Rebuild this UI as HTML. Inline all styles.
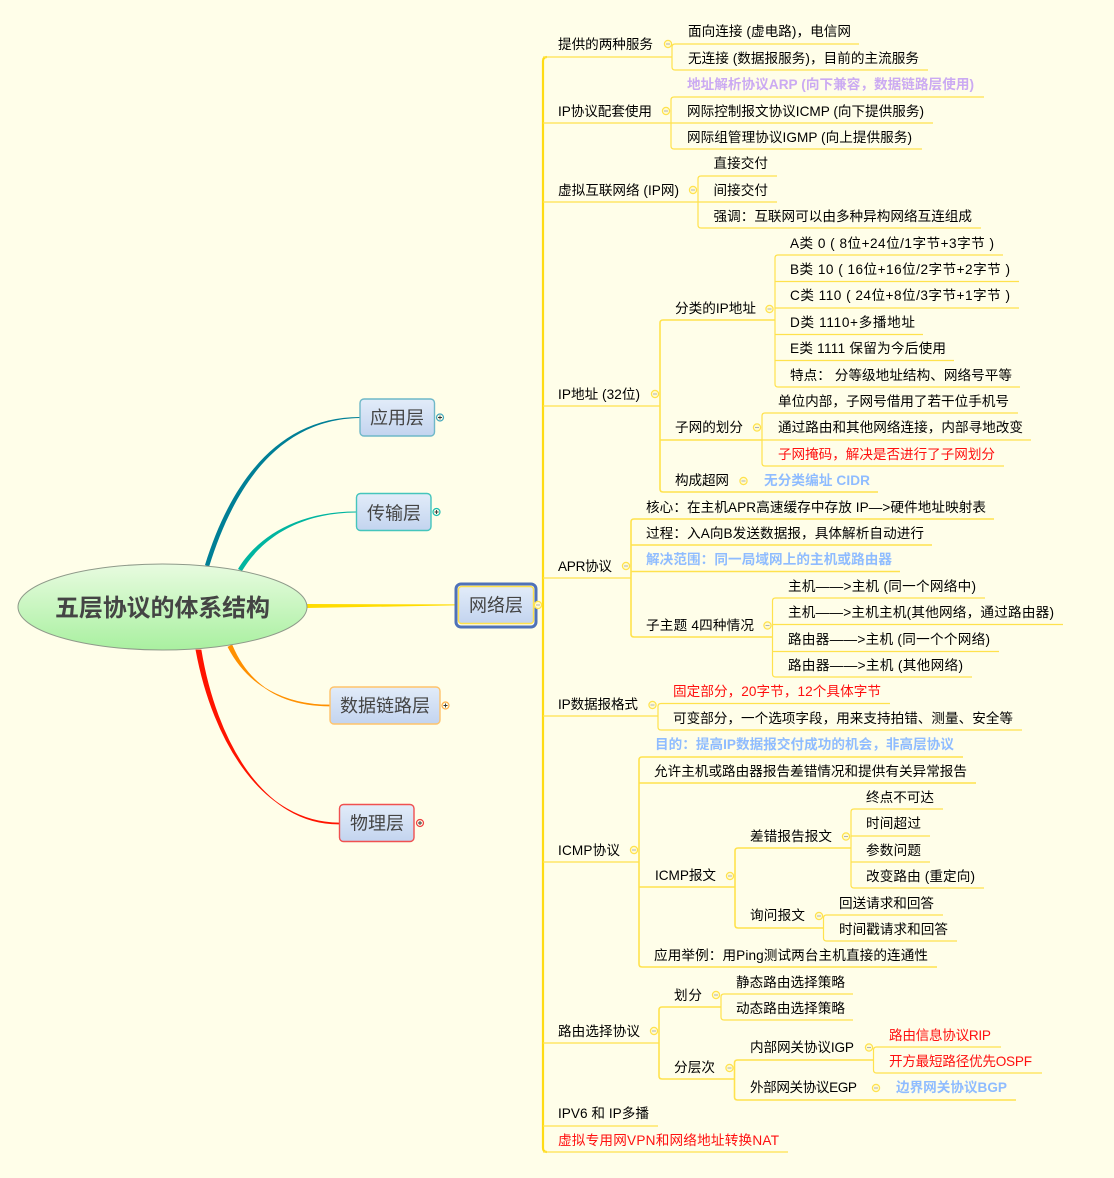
<!DOCTYPE html>
<html lang="zh">
<head>
<meta charset="utf-8">
<title>五层协议的体系结构</title>
<style>
html,body{margin:0;padding:0;background:#FFFEE9;}
svg{display:block;}
text{font-family:"Liberation Sans","Noto Sans CJK SC",sans-serif;font-size:13.6px;fill:#000;}
.r{fill:#FF1010;}
.b{fill:#8FBCFF;font-weight:bold;}
.p{fill:#CBAAF2;font-weight:bold;}
.t{font-size:18px;fill:#444;}
.l{fill:none;stroke:#FFE24D;stroke-width:1.2;}
.l2{fill:none;stroke:#FFE24D;stroke-width:1.6;}
.tr{fill:none;stroke:#FFDC14;stroke-width:2.2;}
</style>
</head>
<body>
<svg width="1114" height="1178" viewBox="0 0 1114 1178" xmlns="http://www.w3.org/2000/svg">
<defs>
<linearGradient id="eg" x1="0" y1="0" x2="0" y2="1"><stop offset="0" stop-color="#E8FBE0"/><stop offset="1" stop-color="#A9F0A0"/></linearGradient>
<linearGradient id="bg" x1="0" y1="0" x2="0" y2="1"><stop offset="0" stop-color="#E2ECF9"/><stop offset="1" stop-color="#C3D4EF"/></linearGradient>
<g id="c"><circle r="3.6" fill="#FFFBD0" stroke="#FFE24D" stroke-width="1.2"/><path d="M-2,0H2" stroke="#B0B0B8" stroke-width="1"/></g>
</defs>
<rect width="1114" height="1178" fill="#FFFEE9"/>

<!-- main connectors -->
<path d="M205,565 C231,481 279,417 360,417 L360,418 C281,419 235,483 209,567 Z" fill="#007F96"/>
<path d="M238,569 C256,539 295,511.5 356,511.5 L356,512.5 C296,513 260,541 242,571 Z" fill="#00B5A0"/>
<path d="M307,604 L455,604.4 L455,605.4 L307,608 Z" fill="#FFDC00"/>
<path d="M228,647 C248,686 285,705 330,705 L330,706 C285,706 250,688 232,645 Z" fill="#FF9000" stroke="#FF9000" stroke-width="0.7"/>
<path d="M196,650 C213,742 263,823 339,823 L339,824 C263.5,824.5 216,741 201,650 Z" fill="#FF1400" stroke="#FF1400" stroke-width="0.8"/>

<!-- central ellipse -->
<ellipse cx="162.5" cy="607" rx="144.5" ry="43" fill="url(#eg)" stroke="#8F9A8A" stroke-width="1"/>
<text x="55" y="616" textLength="215" style="font-size:24px;font-weight:bold;fill:#444">五层协议的体系结构</text>

<!-- level 1 nodes -->
<rect x="360" y="399" width="74.5" height="37" rx="4" fill="url(#bg)" stroke="#6FB8C8" stroke-width="1.4"/>
<text class="t" x="370" y="424" textLength="54">应用层</text>
<rect x="356.5" y="493.5" width="74.5" height="37" rx="4" fill="url(#bg)" stroke="#45C5BC" stroke-width="1.4"/>
<text class="t" x="367" y="519.5" textLength="54">传输层</text>
<rect x="456" y="584" width="80" height="43" rx="5" fill="#FFFEE9" stroke="#4F72B8" stroke-width="3"/>
<rect x="458.5" y="586.5" width="75" height="37" rx="3" fill="url(#bg)" stroke="#FFE24D" stroke-width="1.4"/>
<text class="t" x="469" y="611.5" textLength="54">网络层</text>
<rect x="330" y="687" width="110" height="37" rx="4" fill="url(#bg)" stroke="#FFC36B" stroke-width="1.4"/>
<text class="t" x="340" y="712" textLength="90">数据链路层</text>
<rect x="339.5" y="804.5" width="74.5" height="37" rx="4" fill="url(#bg)" stroke="#F05050" stroke-width="1.4"/>
<text class="t" x="350" y="829.5" textLength="54">物理层</text>

<circle cx="440" cy="417.5" r="3.5" fill="#FFFEE9" stroke="#45A8BC" stroke-width="1.2"/><path d="M438,417.5h4M440,415.5v4" stroke="#333" stroke-width="0.9"/>
<circle cx="436.5" cy="512" r="3.5" fill="#FFFEE9" stroke="#1CBDAF" stroke-width="1.2"/><path d="M434.5,512h4M436.5,510v4" stroke="#333" stroke-width="0.9"/>
<circle cx="445.5" cy="705.5" r="3.5" fill="#FFFEE9" stroke="#FFB04D" stroke-width="1.2"/><path d="M443.5,705.5h4M445.5,703.5v4" stroke="#333" stroke-width="0.9"/>
<circle cx="420" cy="823" r="3.5" fill="#FFFEE9" stroke="#F04040" stroke-width="1.2"/><path d="M418,823h4M420,821v4" stroke="#333" stroke-width="0.9"/>

<!-- trunk -->
<path class="l" d="M537,605H543"/>
<path class="tr" d="M547,57Q543,57 543,61V1148Q543,1152 547,1152"/>

<!-- branches -->
<path class="l" d="M543,57H672 M543,123H671 M543,202H698 M543,406H660 M543,578H631 M543,716H658 M543,862H639 M543,1043H659 M543,1126H658 M543,1152H788"/>
<path class="l" d="M859,44H675Q672,44 672,47V67Q672,70 675,70H928"/>
<path class="l" d="M984,97H674Q671,97 671,100V146Q671,149 674,149H922 M671,123H933"/>
<path class="l" d="M777,176H701Q698,176 698,179V225Q698,228 701,228H981 M698,202H777"/>
<path class="l2" d="M775,320H663Q660,320 660,323V489Q660,492 663,492H878 M660,440H762"/>
<path class="l" d="M1003,255H778Q775,255 775,258V384Q775,387 778,387H1020 M775,281.5H1019 M775,308H1019 M775,334.5H923 M775,360.5H954"/>
<path class="l" d="M1018,413H765Q762,413 762,416V463Q762,466 765,466H1004 M762,440H1031"/>
<path class="l2" d="M994,519H634Q631,519 631,522V634Q631,637 634,637H772.5 M631,545H932 M631,571.5H900"/>
<path class="l" d="M985,598H775.5Q772.5,598 772.5,601V674Q772.5,677 775.5,677H972 M772.5,624.5H1063 M772.5,651.5H999"/>
<path class="l" d="M890,703.5H661Q658,703.5 658,706.5V727Q658,730 661,730H1022"/>
<path class="l2" d="M963,757H642Q639,757 639,760V964Q639,967 642,967H937 M639,783H976 M639,887H735"/>
<path class="l2" d="M851,848H738Q735,848 735,851V925Q735,928 738,928H823.5"/>
<path class="l" d="M943,809H854Q851,809 851,812V885Q851,888 854,888H984 M851,836H930 M851,862H930"/>
<path class="l" d="M943,915H826.5Q823.5,915 823.5,918V938Q823.5,941 826.5,941H957"/>
<path class="l2" d="M721,1007H662Q659,1007 659,1010V1076Q659,1079 662,1079H734.5"/>
<path class="l" d="M853,994H724Q721,994 721,997V1017Q721,1020 724,1020H853"/>
<path class="l2" d="M873.5,1060H737.5Q734.5,1060 734.5,1063V1097Q734.5,1100 737.5,1100H1016"/>
<path class="l" d="M1001,1047H876.5Q873.5,1047 873.5,1050V1070Q873.5,1073 876.5,1073H1042"/>

<!-- collapse icons -->
<use href="#c" x="538" y="605"/><use href="#c" x="668" y="44"/><use href="#c" x="666" y="111"/><use href="#c" x="693" y="190"/>
<use href="#c" x="655" y="394"/><use href="#c" x="769.5" y="309"/><use href="#c" x="757" y="427.5"/><use href="#c" x="743.5" y="481"/>
<use href="#c" x="626" y="566"/><use href="#c" x="767.5" y="625.5"/><use href="#c" x="652.5" y="705"/><use href="#c" x="634" y="850"/>
<use href="#c" x="730" y="876"/><use href="#c" x="846" y="836.5"/><use href="#c" x="819" y="916"/><use href="#c" x="654" y="1031"/>
<use href="#c" x="716" y="995"/><use href="#c" x="729.5" y="1068"/><use href="#c" x="869" y="1047.5"/><use href="#c" x="876" y="1088"/>

<!-- labels -->
<text x="558" y="49" textLength="95">提供的两种服务</text>
<text x="688" y="36" textLength="163">面向连接 (虚电路)，电信网</text>
<text x="688" y="63" textLength="231">无连接 (数据报服务)，目前的主流服务</text>
<text class="p" x="687" y="89" textLength="287">地址解析协议ARP (向下兼容，数据链路层使用)</text>
<text x="558" y="116" textLength="94">IP协议配套使用</text>
<text x="687" y="116" textLength="237">网际控制报文协议ICMP (向下提供服务)</text>
<text x="687" y="142" textLength="225">网际组管理协议IGMP (向上提供服务)</text>
<text x="558" y="195" textLength="121">虚拟互联网络 (IP网)</text>
<text x="713.5" y="168" textLength="54.5">直接交付</text>
<text x="713.5" y="195" textLength="54.5">间接交付</text>
<text x="713.5" y="221" textLength="258.5">强调：互联网可以由多种异构网络互连组成</text>
<text x="790" y="248" textLength="204">A类 0 ( 8位+24位/1字节+3字节 )</text>
<text x="790" y="274" textLength="220">B类 10 ( 16位+16位/2字节+2字节 )</text>
<text x="790" y="300" textLength="220">C类 110 ( 24位+8位/3字节+1字节 )</text>
<text x="790" y="327" textLength="125">D类 1110+多播地址</text>
<text x="790" y="353" textLength="156">E类 1111 保留为今后使用</text>
<text x="790" y="380" textLength="222">特点： 分等级地址结构、网络号平等</text>
<text x="675" y="313" textLength="81">分类的IP地址</text>
<text x="558" y="399" textLength="82">IP地址 (32位)</text>
<text x="778" y="406" textLength="231">单位内部，子网号借用了若干位手机号</text>
<text x="675" y="432" textLength="68">子网的划分</text>
<text x="778" y="432" textLength="245">通过路由和其他网络连接，内部寻地改变</text>
<text class="r" x="778" y="459" textLength="217">子网掩码，解决是否进行了子网划分</text>
<text x="675" y="485" textLength="54">构成超网</text>
<text class="b" x="764" y="485" textLength="106">无分类编址 CIDR</text>
<text x="646" y="512" textLength="340">核心：在主机APR高速缓存中存放 IP—&gt;硬件地址映射表</text>
<text x="646" y="538" textLength="278">过程：入A向B发送数据报，具体解析自动进行</text>
<text class="b" x="646" y="564" textLength="246">解决范围：同一局域网上的主机或路由器</text>
<text x="558" y="571" textLength="54">APR协议</text>
<text x="788" y="591" textLength="188">主机——&gt;主机 (同一个网络中)</text>
<text x="788" y="617" textLength="266">主机——&gt;主机主机(其他网络，通过路由器)</text>
<text x="646" y="630" textLength="108">子主题 4四种情况</text>
<text x="788" y="644" textLength="202">路由器——&gt;主机 (同一个个网络)</text>
<text x="788" y="670" textLength="175">路由器——&gt;主机 (其他网络)</text>
<text class="r" x="673" y="696" textLength="208">固定部分，20字节，12个具体字节</text>
<text x="558" y="709" textLength="80">IP数据报格式</text>
<text x="673" y="723" textLength="340">可变部分，一个选项字段，用来支持拍错、测量、安全等</text>
<text class="b" x="655" y="749" textLength="299">目的：提高IP数据报交付成功的机会，非高层协议</text>
<text x="654" y="776" textLength="313">允许主机或路由器报告差错情况和提供有关异常报告</text>
<text x="866" y="802" textLength="68">终点不可达</text>
<text x="866" y="828" textLength="55">时间超过</text>
<text x="750" y="841" textLength="82">差错报告报文</text>
<text x="558" y="855" textLength="62">ICMP协议</text>
<text x="866" y="855" textLength="55">参数问题</text>
<text x="655" y="880" textLength="61">ICMP报文</text>
<text x="866" y="881" textLength="109">改变路由 (重定向)</text>
<text x="839" y="908" textLength="95">回送请求和回答</text>
<text x="750" y="920" textLength="55">询问报文</text>
<text x="839" y="934" textLength="109">时间戳请求和回答</text>
<text x="654" y="960" textLength="274">应用举例：用Ping测试两台主机直接的连通性</text>
<text x="736" y="987" textLength="109">静态路由选择策略</text>
<text x="674" y="1000" textLength="28">划分</text>
<text x="736" y="1013" textLength="109">动态路由选择策略</text>
<text x="558" y="1036" textLength="82">路由选择协议</text>
<text class="r" x="889" y="1040" textLength="102">路由信息协议RIP</text>
<text x="750" y="1052" textLength="104">内部网关协议IGP</text>
<text class="r" x="889" y="1066" textLength="143">开方最短路径优先OSPF</text>
<text x="674" y="1072" textLength="41">分层次</text>
<text x="750" y="1092" textLength="107">外部网关协议EGP</text>
<text class="b" x="896" y="1092" textLength="111">边界网关协议BGP</text>
<text x="558" y="1118" textLength="91">IPV6 和 IP多播</text>
<text class="r" x="558" y="1145" textLength="221">虚拟专用网VPN和网络地址转换NAT</text>
</svg>
</body>
</html>
